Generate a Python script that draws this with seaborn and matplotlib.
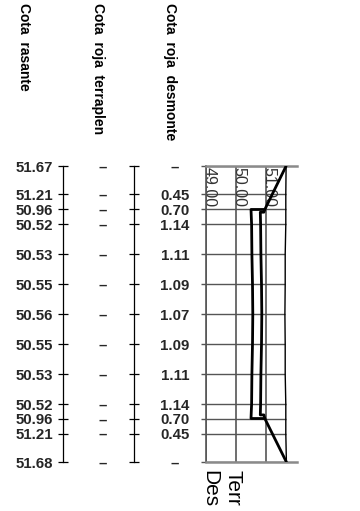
import matplotlib
matplotlib.use("Agg")
import matplotlib.pyplot as plt
import seaborn as sns

# ---------------- data ----------------
stations = [0.0, 9.4, 14.5, 19.4, 29.4, 39.4, 49.4, 59.4, 69.4, 79.4, 84.3, 89.2, 98.7]
cota_rasante = [51.67, 51.21, 50.96, 50.52, 50.53, 50.55, 50.56, 50.55, 50.53, 50.52, 50.96, 51.21, 51.68]
cota_roja_terraplen = [None] * 13
cota_roja_desmonte = [None, 0.45, 0.70, 1.14, 1.11, 1.09, 1.07, 1.09, 1.11, 1.14, 0.70, 0.45, None]
cota_terreno = [51.67, 51.66, 51.66, 51.66, 51.64, 51.64, 51.63, 51.64, 51.64, 51.66, 51.66, 51.66, 51.68]

des_station = [0.0, 14.5, 14.5, 19.4, 29.4, 39.4, 49.4, 59.4, 69.4, 79.4, 84.2, 84.2, 98.7]
des_cota = [51.67, 50.96, 50.50, 50.52, 50.53, 50.55, 50.56, 50.55, 50.53, 50.52, 50.50, 50.96, 51.68]
terr_station = [14.5, 15.4, 15.4, 19.4, 29.4, 39.4, 49.4, 59.4, 69.4, 79.4, 83.0, 83.0, 84.2]
terr_cota = [50.96, 50.93, 50.81, 50.82, 50.83, 50.85, 50.86, 50.85, 50.83, 50.82, 50.81, 50.93, 50.96]

headers = ["Cota  rasante", "Cota  roja  terraplen", "Cota  roja  desmonte"]
grid_cotas = [49.0, 50.0, 51.0]
legend_labels = ["Des", "Terr"]

# ---------------- style ----------------
sns.set_style("white")
plt.rcParams["font.family"] = ["Liberation Sans", "DejaVu Sans"]

W, H = 360, 511
fig = plt.figure(figsize=(W / 100, H / 100), dpi=100)
y0 = 1 - 462 / H
hh = 296 / H
ymax = stations[-1]

def fmt(v):
    return "\u2013" if v is None else f"{v:.2f}"

# ---------------- main profile axes ----------------
ax = fig.add_axes([206 / W, y0, 91 / W, hh])
ax.hlines(stations, grid_cotas[0], cota_terreno, colors="#555555", lw=1.0, zorder=1)
sns.lineplot(x=cota_terreno, y=stations, sort=False, estimator=None, color="black", lw=1.0, ax=ax, zorder=3)
sns.lineplot(x=des_cota, y=des_station, sort=False, estimator=None, color="black", lw=2.0, ax=ax, zorder=4)
sns.lineplot(x=terr_cota, y=terr_station, sort=False, estimator=None, color="black", lw=2.0, ax=ax, zorder=4)
ax.set_xlim(49.0, 49.0 + 91 / 30)
ax.set_ylim(ymax, 0)
ax.set_xlabel("")
ax.set_ylabel("")
ax.set_xticks(grid_cotas)
ax.set_xticklabels([])
ax.tick_params(axis="x", length=0, bottom=False)
ax.grid(axis="x", color="#555555", lw=1.2)
ax.grid(axis="y", visible=False)
ax.set_yticks(stations)
ax.set_yticklabels([fmt(v) for v in cota_roja_desmonte])
ax.tick_params(axis="y", left=True, direction="out", length=3.6, width=1.0, color="#555555",
               pad=18.7, labelsize=10.8)
for lab in ax.get_yticklabels():
    lab.set_ha("center")
    lab.set_fontweight("bold")
for s in ["top", "bottom"]:
    ax.spines[s].set_color("#8a8a8a")
    ax.spines[s].set_linewidth(1.8)
ax.spines["left"].set_color("#555555")
ax.spines["left"].set_linewidth(1.2)
ax.spines["right"].set_visible(False)
ax.patch.set_alpha(0)

for v in grid_cotas:
    ax.text(v - 0.16, 0.33, f"{v:.2f}", rotation=-90, ha="left", va="top",
            fontsize=11.5, color="#333333", zorder=2)

# ---------------- left columns ----------------
def side_axis(xpx, labels, pad, ha):
    a = fig.add_axes([xpx / W, y0, 0.5 / W, hh])
    a.set_ylim(ymax, 0)
    a.set_yticks(stations)
    a.set_yticklabels(labels)
    a.tick_params(axis="y", left=True, direction="inout", length=6.5, width=0.9, color="black",
                  pad=pad, labelsize=10.8)
    for lab in a.get_yticklabels():
        lab.set_ha(ha)
        lab.set_fontweight("bold")
    a.xaxis.set_visible(False)
    for s in ["top", "bottom", "right"]:
        a.spines[s].set_visible(False)
    a.spines["left"].set_color("black")
    a.spines["left"].set_linewidth(0.9)
    a.patch.set_alpha(0)
    return a

side_axis(63, [fmt(v) for v in cota_rasante], 3.8, "right")
side_axis(134, [fmt(v) for v in cota_roja_terraplen], 19.4, "center")

# ---------------- headers ----------------
for xpx, txt in zip([17.0, 91.3, 163.0], headers):
    fig.text(xpx / W, 1 - 3 / H, txt, rotation=-90, ha="left", va="top",
             fontsize=10, fontweight="bold", color="black")

# ---------------- bottom labels ----------------
for xpx, txt in zip([200.5, 223.5], legend_labels):
    fig.text(xpx / W, 1 - 470 / H, txt, rotation=-90, ha="left", va="top",
             fontsize=15, color="black")

fig.savefig("out.png", dpi=100)
